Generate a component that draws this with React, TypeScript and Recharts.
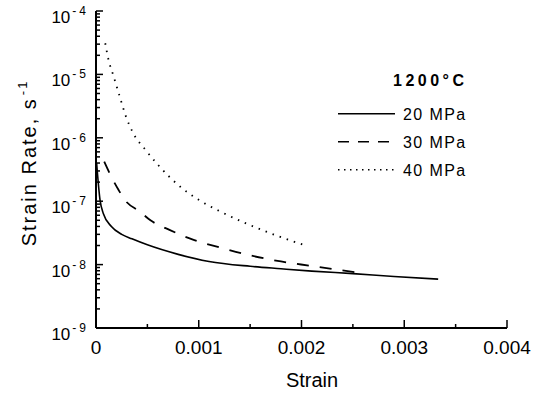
import React from 'react';
import { LineChart, Line, XAxis, YAxis, Legend } from 'recharts';

// 20 MPa (solid)
const strain20 = [0.000006, 0.000039, 0.000071, 0.00015, 0.00025, 0.00035, 0.0005, 0.0008, 0.0011, 0.0015, 0.0018, 0.0021, 0.0025, 0.0029, 0.00333];
const rate20 = [4.0e-7, 1.05e-7, 6.4e-8, 4.0e-8, 3.0e-8, 2.55e-8, 2.05e-8, 1.45e-8, 1.12e-8, 9.4e-9, 8.6e-9, 7.9e-9, 7.2e-9, 6.5e-9, 5.9e-9];

// 30 MPa (dashed)
const strain30 = [0.00008, 0.00014, 0.00022, 0.00028, 0.00043, 0.00053, 0.00072, 0.00095, 0.0012, 0.0015, 0.0018, 0.0021, 0.0023, 0.00255];
const rate30 = [4.2e-7, 2.6e-7, 1.5e-7, 1.05e-7, 6.8e-8, 5.0e-8, 3.5e-8, 2.45e-8, 1.88e-8, 1.4e-8, 1.12e-8, 9.5e-9, 8.5e-9, 7.5e-9];

// 40 MPa (dotted)
const strain40 = [0.00009, 0.00012, 0.00017, 0.00024, 0.00029, 0.00036, 0.00048, 0.0006, 0.0008, 0.001, 0.0012, 0.00147, 0.00175, 0.00202];
const rate40 = [3.1e-5, 1.75e-5, 9.5e-6, 4.0e-6, 2.2e-6, 1.2e-6, 6.5e-7, 3.8e-7, 1.8e-7, 1.05e-7, 7.0e-8, 4.4e-8, 2.9e-8, 2.05e-8];

const seriesNames = ['20 MPa', '30 MPa', '40 MPa'];
const legendTitle = '1200°C';

const xTicks = [0, 0.0005, 0.001, 0.0015, 0.002, 0.0025, 0.003, 0.0035, 0.004];
const yDecades = [-9, -8, -7, -6, -5, -4];
const yMantissas = [1, 2, 3, 4, 5, 6, 7, 8, 9];

const yTicks: number[] = [];
yDecades.forEach((d) => {
  yMantissas.forEach((m) => {
    if (d === -4 && m > 1) return;
    yTicks.push(m * Math.pow(10, d));
  });
});

const toPoints = (xs: number[], ys: number[]) => xs.map((x, i) => ({ x, y: ys[i] }));

const data20 = toPoints(strain20, rate20);
const data30 = toPoints(strain30, rate30);
const data40 = toPoints(strain40, rate40);

const FONT = '"Liberation Sans", Arial, sans-serif';

const isMajorX = (v: number) => Math.abs(v * 1000 - Math.round(v * 1000)) < 1e-6;
const isMajorY = (v: number) => {
  const lg = Math.log10(v);
  return Math.abs(lg - Math.round(lg)) < 1e-6;
};

const BottomTick = ({ x, y, payload }: any) => {
  const v = payload.value;
  const major = isMajorX(v);
  return (
    <g>
      <line x1={x} x2={x} y1={y} y2={y - (major ? 8 : 4)} stroke="#000" strokeWidth={1.5} />
      {major && (
        <text x={x} y={y + 26} textAnchor="middle" fontSize={19} fontFamily={FONT} fill="#000">
          {v === 0 ? '0' : v.toFixed(3)}
        </text>
      )}
    </g>
  );
};

const TopTick = ({ x, y, payload }: any) => {
  const major = isMajorX(payload.value);
  return <line x1={x} x2={x} y1={y} y2={y + (major ? 4 : 2)} stroke="#000" strokeWidth={1} />;
};

const LeftTick = ({ x, y, payload }: any) => {
  const v = payload.value;
  const major = isMajorY(v);
  const exp = Math.round(Math.log10(v));
  return (
    <g>
      <line x1={x} x2={x + (major ? 7 : 4)} y1={y} y2={y} stroke="#000" strokeWidth={1.5} />
      {major && (
        <text x={x - 10} y={y + 12} textAnchor="end" fontSize={17} fontFamily={FONT} fill="#000">
          10
          <tspan dy={-8} dx={2} fontSize={12}>-</tspan>
          <tspan dx={3} fontSize={12}>{String(-exp)}</tspan>
        </text>
      )}
    </g>
  );
};

const yLabel = () => (
  <text
    x={36}
    y={163}
    transform="rotate(-90, 36, 163)"
    textAnchor="middle"
    fontSize={20}
    letterSpacing={2}
    fontFamily={FONT}
    fill="#000"
  >
    Strain Rate, s
    <tspan dy={-9} dx={2} fontSize={13}>-1</tspan>
  </text>
);

const xLabel = () => (
  <text x={312} y={387} textAnchor="middle" fontSize={20} fontFamily={FONT} fill="#000">
    Strain
  </text>
);

const legendStyles = [
  { dash: undefined, width: 1.5 },
  { dash: '11 9', width: 1.5 },
  { dash: '1.5 4.5', width: 1.5 },
];

const renderLegend = () => (
  <svg width={150} height={125} style={{ overflow: 'visible' }}>
    <text x={63} y={25} fontSize={16} fontWeight="bold" letterSpacing={3.5} fontFamily={FONT} fill="#000">
      {legendTitle}
    </text>
    {seriesNames.map((name, i) => (
      <g key={name}>
        <line
          x1={8}
          x2={65}
          y1={52.7 + 28 * i}
          y2={52.7 + 28 * i}
          stroke="#000"
          strokeWidth={legendStyles[i].width}
          strokeDasharray={legendStyles[i].dash}
        />
        <text x={73} y={58.7 + 28 * i} fontSize={16} letterSpacing={1.4} fontFamily={FONT} fill="#000">
          {name}
        </text>
      </g>
    ))}
  </svg>
);

export default function App() {
  return (
    <div style={{ position: 'absolute', left: 0, top: 0, background: '#fff' }}>
      <LineChart width={538} height={396} margin={{ top: 11, right: 31, bottom: 0, left: 0 }}>
        <XAxis
          type="number"
          dataKey="x"
          domain={[0, 0.004]}
          ticks={xTicks}
          interval={0}
          height={68}
          tickSize={0}
          tickMargin={0}
          tickLine={false}
          tick={<BottomTick />}
          axisLine={{ stroke: '#000', strokeWidth: 2 }}
          allowDataOverflow
          label={xLabel}
        />
        <XAxis
          xAxisId="top"
          orientation="top"
          type="number"
          dataKey="x"
          domain={[0, 0.004]}
          ticks={xTicks}
          interval={0}
          height={0}
          tickSize={0}
          tickMargin={0}
          tickLine={false}
          tick={<TopTick />}
          axisLine={{ stroke: '#000', strokeWidth: 1.5 }}
          allowDataOverflow
        />
        <YAxis
          type="number"
          dataKey="y"
          scale="log"
          domain={[1e-9, 1e-4]}
          ticks={yTicks}
          interval={0}
          width={96}
          tickSize={0}
          tickMargin={0}
          tickLine={false}
          tick={<LeftTick />}
          axisLine={{ stroke: '#000', strokeWidth: 2 }}
          allowDataOverflow
          label={yLabel}
        />
        <YAxis
          yAxisId="right"
          orientation="right"
          type="number"
          scale="log"
          domain={[1e-9, 1e-4]}
          width={0}
          tick={false}
          tickLine={false}
          axisLine={{ stroke: '#000', strokeWidth: 1.5 }}
          allowDataOverflow
        />
        <Legend
          layout="vertical"
          align="center"
          verticalAlign="middle"
          content={renderLegend}
          wrapperStyle={{ position: 'absolute', left: 330, top: 61, width: 150, height: 125 }}
        />
        <Line
          data={data20}
          dataKey="y"
          name={seriesNames[0]}
          type="monotone"
          stroke="#000"
          strokeWidth={1.6}
          dot={false}
          activeDot={false}
          isAnimationActive={false}
        />
        <Line
          data={data30}
          dataKey="y"
          name={seriesNames[1]}
          type="monotone"
          stroke="#000"
          strokeWidth={1.8}
          strokeDasharray="12 11"
          dot={false}
          activeDot={false}
          isAnimationActive={false}
        />
        <Line
          data={data40}
          dataKey="y"
          name={seriesNames[2]}
          type="monotone"
          stroke="#000"
          strokeWidth={1.8}
          strokeDasharray="1.5 6"
          dot={false}
          activeDot={false}
          isAnimationActive={false}
        />
      </LineChart>
    </div>
  );
}
